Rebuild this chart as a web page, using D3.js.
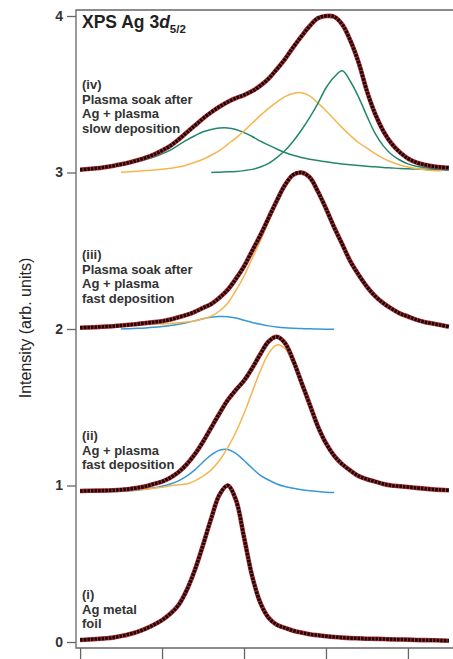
<!DOCTYPE html>
<html>
<head>
<meta charset="utf-8">
<script src="https://cdn.jsdelivr.net/npm/d3@7"></script>
<style>
  html, body { margin: 0; padding: 0; background: #fff; }
  svg { display: block; font-family: "Liberation Sans", Arial, sans-serif; }
</style>
</head>
<body>
<div id="chart"></div>
<script>
// binding energy grid (eV), left = high BE
var energy = [370.0,369.9,369.8,369.7,369.6,369.5,369.4,369.3,369.2,369.1,369.0,368.9,368.8,368.7,368.6,368.5,
  368.4,368.3,368.2,368.1,368.0,367.9,367.8,367.7,367.6,367.5,367.4,367.3,367.2,367.1,367.0,366.9,366.8,
  366.7,366.6,366.5,366.4,366.3,366.2,366.1,366.0,365.9,365.8,365.7,365.6,365.5];

var xTicks = [370, 369, 368, 367, 366];
var yTicks = [0, 1, 2, 3, 4];

// (i) Ag metal foil
var foilData = [0.013,0.016,0.019,0.023,0.028,0.038,0.05,0.065,0.085,0.11,0.14,0.18,0.235,0.33,0.46,0.62,
  0.79,0.94,1.0,0.91,0.67,0.42,0.25,0.155,0.11,0.09,0.072,0.06,0.05,0.043,0.037,0.032,0.028,0.025,0.023,
  0.021,0.02,0.019,0.017,0.016,0.015,0.013,0.012,0.011,0.01,0.008];

// (ii) Ag + plasma fast deposition
var fastData = [0.965,0.966,0.967,0.968,0.97,0.973,0.978,0.985,0.995,1.01,1.025,1.05,1.085,1.135,1.2,1.28,
  1.37,1.46,1.545,1.61,1.67,1.75,1.84,1.92,1.95,1.91,1.80,1.66,1.52,1.38,1.27,1.19,1.135,1.095,1.06,1.04,
  1.025,1.01,1.0,0.995,0.99,0.985,0.98,0.975,0.972,0.97];
var fastBlue = [0.958,0.958,0.959,0.96,0.961,0.963,0.966,0.97,0.977,0.985,0.995,1.01,1.03,1.06,1.10,1.15,
  1.195,1.225,1.23,1.205,1.16,1.11,1.065,1.035,1.01,0.993,0.982,0.973,0.966,0.961,0.957,0.955,
  null,null,null,null,null,null,null,null,null,null,null,null,null,null];
var fastOrange = [null,null,null,null,null,0.968,0.970,0.973,0.976,0.983,0.988,0.998,1.005,1.01,1.03,1.06,
  1.10,1.16,1.24,1.34,1.46,1.598,1.733,1.843,1.898,1.875,1.776,1.645,1.512,1.377,1.268,1.188,1.133,1.093,
  1.058,1.038,1.023,1.008,0.998,0.993,0.988,0.983,0.978,0.973,0.97,0.968];

// (iii) plasma soak after Ag + plasma fast deposition
var soakFastData = [2.008,2.01,2.012,2.015,2.018,2.022,2.027,2.032,2.038,2.044,2.05,2.06,2.075,2.09,2.11,
  2.135,2.16,2.2,2.25,2.32,2.40,2.50,2.60,2.71,2.82,2.92,2.985,3.0,2.97,2.88,2.77,2.65,2.54,2.43,2.345,
  2.27,2.21,2.165,2.13,2.1,2.08,2.06,2.045,2.035,2.025,2.015];
var soakFastBlue = [null,null,null,null,null,2.0,2.002,2.004,2.007,2.011,2.016,2.022,2.03,2.04,2.052,2.065,
  2.075,2.08,2.079,2.07,2.056,2.042,2.03,2.02,2.013,2.008,2.005,2.003,2.001,2.0,1.999,1.998,
  null,null,null,null,null,null,null,null,null,null,null,null,null,null];
var soakFastOrange = [null,null,null,null,null,2.020,2.023,2.026,2.029,2.031,2.032,2.035,2.04,2.045,2.053,
  2.065,2.082,2.115,2.165,2.245,2.338,2.452,2.565,2.685,2.803,2.91,2.978,2.995,2.967,2.878,2.768,2.648,
  2.538,2.428,2.343,2.268,2.208,2.163,2.128,2.098,2.078,2.058,2.043,2.033,2.023,2.013];

// (iv) plasma soak after Ag + plasma slow deposition
var soakSlowData = [3.018,3.022,3.027,3.034,3.042,3.052,3.064,3.078,3.095,3.115,3.14,3.17,3.21,3.255,3.30,
  3.345,3.385,3.42,3.45,3.475,3.495,3.52,3.555,3.60,3.66,3.725,3.80,3.87,3.935,3.985,4.0,3.995,3.945,3.84,
  3.70,3.52,3.375,3.265,3.185,3.13,3.09,3.065,3.05,3.04,3.034,3.03];
var soakSlowOrange = [null,null,null,null,null,3.002,3.005,3.008,3.012,3.016,3.021,3.027,3.035,3.048,3.065,
  3.085,3.11,3.14,3.18,3.22,3.265,3.315,3.365,3.41,3.45,3.485,3.505,3.51,3.49,3.445,3.395,3.34,3.285,
  3.235,3.19,3.155,3.12,3.09,3.067,3.048,3.035,3.025,3.018,3.013,3.01,null];
var soakSlowGreen1 = [3.018,3.022,3.027,3.034,3.042,3.05,3.059,3.07,3.083,3.099,3.119,3.143,3.175,3.207,
  3.235,3.26,3.275,3.284,3.285,3.275,3.255,3.23,3.20,3.175,3.15,3.128,3.11,3.096,3.085,3.076,3.068,3.061,
  3.055,3.05,3.045,3.04,3.036,3.032,3.029,3.026,3.024,3.022,3.02,3.018,3.017,3.016];
var soakSlowGreen2 = [null,null,null,null,null,null,null,null,null,null,null,null,null,null,null,null,
  3.0,3.002,3.004,3.007,3.012,3.02,3.035,3.058,3.095,3.14,3.2,3.27,3.35,3.44,3.54,3.61,3.65,3.58,3.48,
  3.36,3.25,3.17,3.115,3.08,3.055,3.04,3.032,3.026,3.022,3.018];

var sampleLabels = [
  ['(i)', 'Ag metal', 'foil'],
  ['(ii)', 'Ag + plasma', 'fast deposition'],
  ['(iii)', 'Plasma soak after', 'Ag + plasma', 'fast deposition'],
  ['(iv)', 'Plasma soak after', 'Ag + plasma', 'slow deposition']
];

(function(d3) {

var spectra = [foilData, fastData, soakFastData, soakSlowData];
var components = [
  { values: fastBlue, color: '#3a97d6' },
  { values: fastOrange, color: '#f5b550' },
  { values: soakFastBlue, color: '#3a97d6' },
  { values: soakFastOrange, color: '#f5b550' },
  { values: soakSlowGreen1, color: '#23876c' },
  { values: soakSlowOrange, color: '#f5b550' },
  { values: soakSlowGreen2, color: '#23876c' }
];
var labelTop = [599, 440, 259, 89];

var width = 453,
    height = 659,
    padLeft = 76, padTop = 10, axisY = 648;

var svg = d3.select('#chart')
  .append('svg')
  .attr('width', width)
  .attr('height', height);

var x = d3.scaleLinear().domain([370.05, 365.45]).range([padLeft, width]);
var y = d3.scaleLinear().domain([0, 4]).range([axisY - 6, padTop + 6]);

// components under the data
var compLine = d3.line()
  .defined(function(d) { return d != null; })
  .x(function(d, i) { return x(energy[i]); })
  .y(function(d) { return y(d); })
  .curve(d3.curveCatmullRom);

svg.selectAll('path.comp')
  .data(components)
  .enter()
  .append('path')
  .attr('class', 'comp')
  .attr('d', function(c) { return compLine(c.values); })
  .attr('fill', 'none')
  .attr('stroke', function(c) { return c.color; })
  .attr('stroke-width', 1.5);

var dataLine = d3.line()
  .x(function(d, i) { return x(energy[i]); })
  .y(function(d) { return y(d); })
  .curve(d3.curveCatmullRom);

// fit envelope (red) and measured points (black)
svg.selectAll('path.fit')
  .data(spectra)
  .enter()
  .append('path')
  .attr('class', 'fit')
  .attr('d', dataLine)
  .attr('fill', 'none')
  .attr('stroke', '#b8343c')
  .attr('stroke-width', 4.6);

svg.selectAll('path.meas')
  .data(spectra)
  .enter()
  .append('path')
  .attr('class', 'meas')
  .attr('d', dataLine)
  .attr('fill', 'none')
  .attr('stroke', '#170606')
  .attr('stroke-width', 3.4)
  .attr('stroke-dasharray', '2.6,1');

// frame
svg.append('path')
  .attr('d', 'M' + width + ',' + padTop + 'H' + padLeft + 'V' + axisY + 'H' + width)
  .attr('fill', 'none')
  .attr('stroke', '#666')
  .attr('stroke-width', 1.3);

var yAxis = svg.append('g')
  .attr('transform', 'translate(' + padLeft + ',0)')
  .call(d3.axisLeft(y).tickValues(yTicks).tickFormat(d3.format('d')).tickSize(9).tickPadding(4));
yAxis.select('.domain').remove();
yAxis.selectAll('line').attr('stroke', '#666').attr('stroke-width', 1.3);
yAxis.selectAll('text')
  .attr('font-size', 14)
  .attr('font-weight', 'bold')
  .attr('fill', '#333')
  .attr('font-family', '"Liberation Sans", Arial, sans-serif');

var xAxis = svg.append('g')
  .attr('transform', 'translate(0,' + axisY + ')')
  .call(d3.axisBottom(x).tickValues(xTicks).tickFormat('').tickSize(12));
xAxis.select('.domain').remove();
xAxis.selectAll('line').attr('stroke', '#666').attr('stroke-width', 1.3);

// y title
svg.append('text')
  .attr('transform', 'translate(31,328) rotate(-90)')
  .attr('text-anchor', 'middle')
  .attr('font-size', 16)
  .attr('fill', '#222')
  .text('Intensity (arb. units)');

// chart title
var title = svg.append('text')
  .attr('x', padLeft + 6)
  .attr('y', 28)
  .attr('font-size', 17.5)
  .attr('font-weight', 'bold')
  .attr('fill', '#222');
title.append('tspan').text('XPS Ag 3');
title.append('tspan').attr('font-style', 'italic').text('d');
title.append('tspan').attr('font-size', 11.5).attr('dy', 5).text('5/2');

// sample labels
sampleLabels.forEach(function(lines, k) {
  svg.append('g')
    .selectAll('text')
    .data(lines)
    .enter()
    .append('text')
    .attr('x', padLeft + 6)
    .attr('y', function(d, i) { return labelTop[k] + i * 14.5; })
    .attr('font-size', 13)
    .attr('font-weight', 'bold')
    .attr('fill', '#333')
    .text(function(d) { return d; });
});

})(window.d3);
</script>
</body>
</html>
